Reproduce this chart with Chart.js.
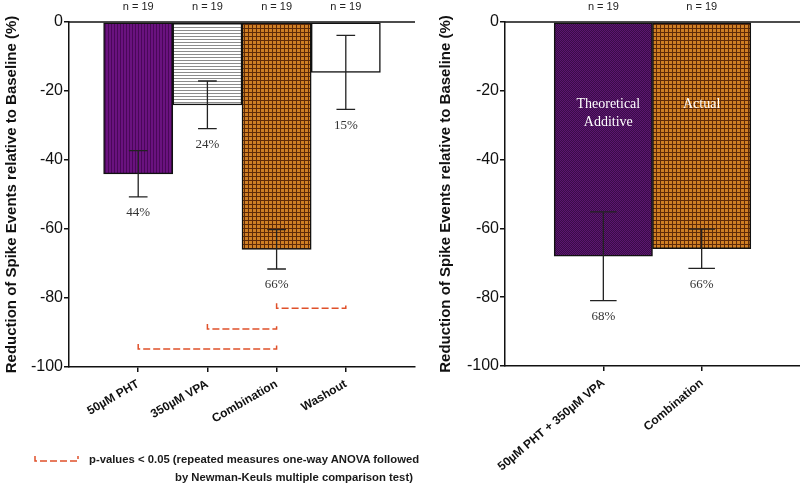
<!DOCTYPE html>
<html>
<head>
<meta charset="utf-8">
<script src="https://cdn.jsdelivr.net/npm/chart.js@4.4.0/dist/chart.umd.min.js"></script>
<style>
    body {
        margin: 0;
        width: 800px;
        height: 483px;
        background: #fff;
        overflow: hidden;
        position: relative;
        font-family: 'Liberation Sans', Arial, sans-serif;
    }
    canvas { position: absolute; top: 0; }
    #leftChart { left: 0; }
    #rightChart { left: 420px; }
    .note {
        position: absolute;
        font-weight: bold;
        font-size: 11.3px;
        color: #1a1a1a;
        white-space: nowrap;
    }
</style>
</head>
<body>
<canvas id="leftChart" width="420" height="483"></canvas>
<canvas id="rightChart" width="380" height="483"></canvas>
<div class="note" style="left:89px; top:453px;">p-values &lt; 0.05 (repeated measures one-way ANOVA followed</div>
<div class="note" style="left:175px; top:471px;">by Newman-Keuls multiple comparison test)</div>
<script>
// Panel izquierdo: tratamientos individuales
const leftLabels = ['', '50µM PHT', '350µM VPA', 'Combination', 'Washout', ''];
const leftMeans = [null, -44, -24, -65.9, -14.6, null];
const leftSem = [null, 6.7, 6.9, 5.7, 10.7, null];
const leftPct = ['', '44%', '24%', '66%', '15%', ''];
const leftN = ['', 'n = 19', 'n = 19', 'n = 19', 'n = 19', ''];

// Comparaciones significativas (índice de categoría, valor y)
const leftBrackets = [
    { from: 3, to: 4, y: -83 },
    { from: 2, to: 3, y: -89 },
    { from: 1, to: 3, y: -94.8 }
];

// Panel derecho: aditivo teórico vs. real
const rightLabels = ['', '50µM PHT + 350µM VPA', 'Combination', ''];
const rightMeans = [null, -68.1, -65.9, null];
const rightSem = [null, 12.9, 5.7, null];
const rightPct = ['', '68%', '66%', ''];
const rightN = ['', 'n = 19', 'n = 19', ''];
const rightInside = ['', ['Theoretical', 'Additive'], ['Actual'], ''];

const yTitle = 'Reduction of Spike Events relative to Baseline (%)';
const INK = '#111';
const BRACKET = '#e0502a';

function makePattern(size, draw) {
    const c = document.createElement('canvas');
    c.width = size;
    c.height = size;
    const g = c.getContext('2d');
    draw(g, size);
    return g.createPattern(c, 'repeat');
}

const purpleStripes = makePattern(3, (g, s) => {
    g.fillStyle = '#6a127f';
    g.fillRect(0, 0, s, s);
    g.fillStyle = '#4a0759';
    g.fillRect(0, 0, 1, s);
});

const grayLines = makePattern(3, (g, s) => {
    g.fillStyle = '#ffffff';
    g.fillRect(0, 0, s, s);
    g.fillStyle = '#8c8c8c';
    g.fillRect(0, 0, s, 1);
});

const orangeGrid = makePattern(4, (g, s) => {
    g.fillStyle = '#cf7f24';
    g.fillRect(0, 0, s, s);
    g.fillStyle = '#5e2a08';
    g.fillRect(0, 0, 1, s);
    g.fillRect(0, 0, s, 1);
});

const darkPurple = makePattern(2, (g, s) => {
    g.fillStyle = '#3a0c48';
    g.fillRect(0, 0, s, s);
    g.fillStyle = '#5c1670';
    g.fillRect(0, 0, 1, 1);
    g.fillRect(1, 1, 1, 1);
});

function drawBracket(ctx, x1, x2, y) {
    ctx.beginPath();
    ctx.moveTo(x1, y - 5);
    ctx.lineTo(x1, y);
    ctx.lineTo(x2, y);
    ctx.lineTo(x2, y - 5);
    ctx.stroke();
}

function panelPlugin(p) {
    return {
        id: 'panelExtras',
        afterDatasetsDraw(chart) {
            const { ctx, chartArea: a, scales: { x, y } } = chart;
            const bars = chart.getDatasetMeta(0).data;
            ctx.save();

            // línea del cero
            ctx.strokeStyle = INK;
            ctx.lineWidth = 1.5;
            ctx.beginPath();
            ctx.moveTo(a.left, y.getPixelForValue(0));
            ctx.lineTo(a.right, y.getPixelForValue(0));
            ctx.stroke();

            bars.forEach((bar, i) => {
                const m = p.means[i];
                if (m == null) return;
                const cx = bar.x;
                const cap = bar.width * 0.135;
                const hi = y.getPixelForValue(m + p.sem[i]);
                const lo = y.getPixelForValue(m - p.sem[i]);

                ctx.strokeStyle = '#222';
                ctx.lineWidth = 1.3;
                ctx.beginPath();
                ctx.moveTo(cx, hi); ctx.lineTo(cx, lo);
                ctx.moveTo(cx - cap, hi); ctx.lineTo(cx + cap, hi);
                ctx.moveTo(cx - cap, lo); ctx.lineTo(cx + cap, lo);
                ctx.stroke();

                ctx.textAlign = 'center';
                ctx.textBaseline = 'middle';
                ctx.fillStyle = '#333';
                ctx.font = '13px "Liberation Serif", "Times New Roman", serif';
                ctx.fillText(p.pct[i], cx, lo + 16);

                ctx.fillStyle = '#222';
                ctx.font = '11px "Liberation Sans", Arial, sans-serif';
                ctx.fillText(p.n[i], cx, 7);

                if (p.inside && p.inside[i]) {
                    ctx.fillStyle = '#fff';
                    ctx.font = '14px "Liberation Serif", "Times New Roman", serif';
                    p.inside[i].forEach((line, k) => {
                        ctx.fillText(line, cx + (p.inside[i].length > 1 ? 5 : 0), y.getPixelForValue(-24) + k * 18);
                    });
                }
            });

            if (p.brackets) {
                ctx.strokeStyle = BRACKET;
                ctx.lineWidth = 1.5;
                ctx.setLineDash([7, 3]);
                p.brackets.forEach(b => {
                    drawBracket(ctx, x.getPixelForValue(b.from), x.getPixelForValue(b.to), y.getPixelForValue(b.y));
                });
                // muestra de la leyenda
                drawBracket(ctx, 35, 78, 461);
            }
            ctx.restore();
        }
    };
}

function buildPanel(canvasId, cfg) {
    const last = cfg.labels.length - 1;
    return new Chart(document.getElementById(canvasId), {
        type: 'bar',
        data: {
            labels: cfg.labels,
            datasets: [{
                data: cfg.means,
                backgroundColor: cfg.fills,
                borderColor: INK,
                borderWidth: 1.5,
                borderSkipped: false,
                barPercentage: 1,
                categoryPercentage: 1
            }]
        },
        options: {
            responsive: false,
            animation: false,
            events: [],
            layout: { padding: { top: 22, right: cfg.rightPad, left: 0, bottom: 0 } },
            plugins: {
                legend: { display: false },
                tooltip: { enabled: false }
            },
            scales: {
                x: {
                    offset: false,
                    border: { color: INK, width: 1.5 },
                    grid: {
                        offset: false,
                        drawOnChartArea: false,
                        tickLength: 5,
                        lineWidth: 1.5,
                        color: c => (c.index > 0 && c.index < last) ? INK : 'rgba(0,0,0,0)'
                    },
                    ticks: {
                        autoSkip: false,
                        minRotation: cfg.rotation,
                        maxRotation: cfg.rotation,
                        padding: 5,
                        color: INK,
                        font: { size: 12, weight: 'bold' }
                    },
                    afterFit: s => {
                        s.height = cfg.xHeight;
                        s.paddingLeft = 0;
                        s.paddingRight = 0;
                    }
                },
                y: {
                    min: -100,
                    max: 0,
                    border: { color: INK, width: 1.5 },
                    grid: { drawOnChartArea: false, tickLength: 5, lineWidth: 1.5, color: INK },
                    ticks: { stepSize: 20, padding: 1, color: INK, font: { size: 16 } },
                    title: {
                        display: true,
                        text: yTitle,
                        color: INK,
                        font: { size: 15, weight: 'bold' },
                        padding: { top: cfg.titlePad, bottom: 0 }
                    },
                    afterFit: s => { s.width = cfg.yWidth; }
                }
            }
        },
        plugins: [panelPlugin(cfg)]
    });
}

Chart.defaults.font.family = '"Liberation Sans", Arial, sans-serif';

buildPanel('leftChart', {
    labels: leftLabels,
    means: leftMeans,
    sem: leftSem,
    pct: leftPct,
    n: leftN,
    brackets: leftBrackets,
    fills: ['#fff', purpleStripes, grayLines, orangeGrid, '#ffffff', '#fff'],
    rotation: 30,
    rightPad: 5,
    xHeight: 116,
    yWidth: 69,
    titlePad: 3
});

buildPanel('rightChart', {
    labels: rightLabels,
    means: rightMeans,
    sem: rightSem,
    pct: rightPct,
    n: rightN,
    inside: rightInside,
    fills: ['#fff', darkPurple, orangeGrid, '#fff'],
    rotation: 40,
    rightPad: 0,
    xHeight: 117,
    yWidth: 85,
    titlePad: 17
});
</script>
</body>
</html>
